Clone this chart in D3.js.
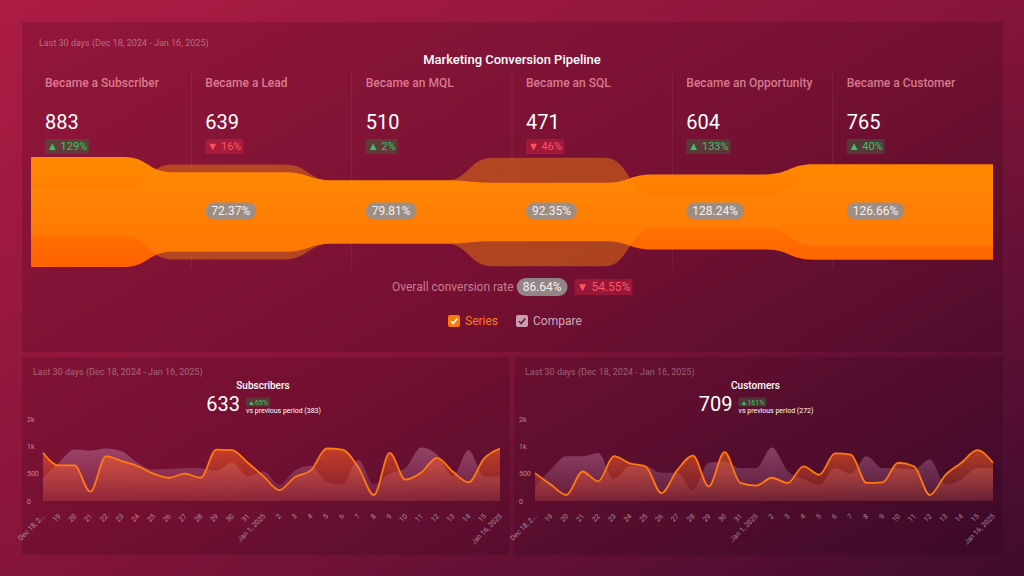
<!DOCTYPE html>
<html>
<head>
<meta charset="utf-8">
<script src="https://cdn.jsdelivr.net/npm/d3@7"></script>
<style>
    body { margin: 0; background: #7a1434; font-family: Roboto, "Noto Sans", sans-serif; }
    svg { display: block; }
</style>
</head>
<body>
<div id="dashboard"></div>
<script>
// Funnel data
const stageNames = ["Became a Subscriber", "Became a Lead", "Became an MQL", "Became an SQL", "Became an Opportunity", "Became a Customer"];
const stageValues = [883, 639, 510, 471, 604, 765];
const compareValues = [383, 761, 500, 872, 259, 546];
const stageChanges = [129, -16, 2, -46, 133, 40];
const overallChange = -54.55;

// Daily data (Dec 18, 2024 - Jan 16, 2025)
const dayLabels = ["Dec 18, 2...", "19", "20", "21", "22", "23", "24", "25", "26", "27", "28", "29", "30", "31",
    "Jan 1, 2025", "2", "3", "4", "5", "6", "7", "8", "9", "10", "11", "12", "13", "14", "15", "Jan 16, 2025"];
const subscribers = [883, 650, 650, 170, 820, 730, 640, 500, 425, 500, 425, 940, 930, 700, 450, 200, 440, 560, 960, 940, 620, 110, 880, 390, 520, 790, 540, 340, 780, 960];
const subscribersPrev = [425, 700, 940, 920, 960, 910, 700, 575, 590, 600, 600, 550, 700, 450, 540, 300, 560, 640, 350, 300, 750, 300, 500, 600, 980, 850, 450, 930, 450, 450];
const customers = [510, 300, 110, 540, 360, 820, 690, 635, 145, 560, 830, 265, 895, 330, 280, 425, 330, 635, 480, 870, 850, 330, 340, 700, 635, 110, 480, 700, 930, 700];
const customersPrev = [250, 575, 820, 820, 880, 400, 635, 635, 515, 515, 200, 700, 720, 600, 600, 980, 550, 400, 300, 600, 500, 820, 600, 600, 580, 760, 300, 400, 600, 600];
const yTickValues = [0, 500, 1000, 1500];
const yTickLabels = ["0", "500", "1k", "2k"];

const GREEN = "#37c46b", GREEN_BG = "rgba(70,90,60,0.55)",
    RED = "#ff5468", RED_BG = "rgba(230,40,70,0.35)",
    ORANGE = "#ff7a10";
const DATE_TEXT = "Last 30 days (Dec 18, 2024 - Jan 16, 2025)";

document.addEventListener("DOMContentLoaded", () => {
    const W = 1024, H = 576;
    const svg = d3.select("#dashboard").append("svg").attr("width", W).attr("height", H);
    const defs = svg.append("defs");

    const bg = defs.append("linearGradient").attr("id", "bg").attr("x1", 0).attr("y1", 0).attr("x2", 1).attr("y2", 1);
    bg.append("stop").attr("offset", "0%").attr("stop-color", "#ad1c44");
    bg.append("stop").attr("offset", "50%").attr("stop-color", "#86143a");
    bg.append("stop").attr("offset", "100%").attr("stop-color", "#3e0c2e");
    svg.append("rect").attr("width", W).attr("height", H).attr("fill", "url(#bg)");

    // panneaux
    const panels = [[22, 22, 981, 330], [22, 357, 488, 198], [514, 357, 489, 198]];
    svg.selectAll(".panel").data(panels).enter().append("rect")
        .attr("class", "panel")
        .attr("x", d => d[0]).attr("y", d => d[1]).attr("width", d => d[2]).attr("height", d => d[3])
        .attr("fill", "rgba(25,0,15,0.16)");

    function badge(g, x, y, change, fontSize, padX, h, space) {
        const up = change >= 0;
        const grp = g.append("g").attr("transform", `translate(${x},${y})`);
        const rect = grp.append("rect");
        const t = grp.append("text")
            .attr("x", padX).attr("y", h / 2).attr("dy", "0.36em")
            .style("font-size", fontSize + "px")
            .attr("fill", up ? GREEN : RED)
            .text(`${up ? "▲" : "▼"}${space ? " " : ""}${Math.abs(change)}%`);
        const w = t.node().getComputedTextLength() + 2 * padX;
        rect.attr("width", w).attr("height", h).attr("rx", 1).attr("fill", up ? GREEN_BG : RED_BG);
        return w;
    }

    function pill(g, cx, cy, label, fontSize, h) {
        const grp = g.append("g");
        const rect = grp.append("rect");
        const t = grp.append("text").attr("x", cx).attr("y", cy).attr("dy", "0.36em")
            .attr("text-anchor", "middle").style("font-size", fontSize + "px").attr("fill", "#f3f0f0").text(label);
        const w = t.node().getComputedTextLength() + 12;
        rect.attr("x", cx - w / 2).attr("y", cy - h / 2).attr("width", w).attr("height", h)
            .attr("rx", h / 2).attr("fill", "rgba(150,142,142,0.92)");
        return w;
    }

    /* ======================
       FUNNEL
       ====================== */
    function chartFunnel() {
        const g = svg.append("g");
        g.append("text").attr("x", 39).attr("y", 46).style("font-size", "9px")
            .attr("fill", "rgba(255,255,255,0.38)").text(DATE_TEXT);
        g.append("text").attr("x", 512).attr("y", 64).attr("text-anchor", "middle")
            .style("font-size", "13px").style("font-weight", 500).attr("fill", "#fff")
            .text("Marketing Conversion Pipeline");

        const left = 31, right = 993, mid = 212;
        const colW = (right - left) / stageNames.length;
        const hScale = d3.scaleLinear()
            .domain([0, d3.max(stageValues.concat(compareValues))])
            .range([0, 110]);

        // séparateurs
        g.selectAll(".sep").data(d3.range(1, stageNames.length)).enter().append("line")
            .attr("x1", i => left + i * colW).attr("x2", i => left + i * colW)
            .attr("y1", 70).attr("y2", 268)
            .attr("stroke", "rgba(255,255,255,0.07)");

        function bandPoints(values) {
            const pts = [];
            values.forEach((v, i) => {
                const x0 = left + i * colW;
                const start = i === 0 ? left : x0 - 0.12 * colW;
                const end = i === values.length - 1 ? right : x0 + 0.58 * colW;
                pts.push({ x: start, v: v }, { x: end, v: v });
            });
            return pts;
        }
        const band = d3.area()
            .x(d => d.x)
            .y0(d => mid + hScale(d.v) / 2)
            .y1(d => mid - hScale(d.v) / 2)
            .curve(d3.curveBumpX);

        const grad = defs.append("linearGradient").attr("id", "funnel-grad")
            .attr("gradientUnits", "userSpaceOnUse").attr("x1", 0).attr("x2", 0).attr("y1", 157).attr("y2", 267);
        grad.append("stop").attr("offset", "0%").attr("stop-color", "#ff8a00");
        grad.append("stop").attr("offset", "100%").attr("stop-color", "#ff6200");

        g.append("path").attr("d", band(bandPoints(stageValues))).attr("fill", "url(#funnel-grad)");
        g.append("path").attr("d", band(bandPoints(compareValues))).attr("fill", "rgba(255,140,10,0.42)");

        // en-têtes des colonnes
        stageNames.forEach((name, i) => {
            const x = left + i * colW + 14;
            g.append("text").attr("x", x).attr("y", 87).style("font-size", "12px").style("font-weight", 500)
                .attr("fill", "rgba(255,170,185,0.7)").text(name);
            g.append("text").attr("x", x).attr("y", 129).style("font-size", "20px")
                .attr("fill", "#fff").text(stageValues[i]);
            badge(g, x, 139, stageChanges[i], 11, 2, 15, true);
            if (i > 0) {
                const rate = (stageValues[i] / stageValues[i - 1] * 100).toFixed(2) + "%";
                const t = g.append("text").style("font-size", "12px").text(rate);
                const w = t.node().getComputedTextLength() + 12;
                t.remove();
                pill(g, x + w / 2, 211, rate, 12, 17);
            }
        });

        // taux global
        const overall = (stageValues[stageValues.length - 1] / stageValues[0] * 100).toFixed(2) + "%";
        const lbl = g.append("text").attr("x", 392).attr("y", 287).attr("dy", "0.36em").style("font-size", "12px")
            .attr("fill", "rgba(255,200,210,0.6)").text("Overall conversion rate");
        let x = 392 + lbl.node().getComputedTextLength() + 3;
        const tmp = g.append("text").style("font-size", "12px").text(overall);
        const pw = tmp.node().getComputedTextLength() + 12;
        tmp.remove();
        pill(g, x + pw / 2, 287, overall, 12, 18);
        x += pw + 7;
        badge(g, x, 279, overallChange, 12, 2, 16, true);

        // légende
        const legend = [
            { label: "Series", box: "#ff7a00", check: "#fff", text: "#ff7a1a", x: 448 },
            { label: "Compare", box: "#c99db2", check: "#6a1d3a", text: "#cfa9bb", x: 516 }
        ];
        legend.forEach(l => {
            const lg = g.append("g").attr("transform", `translate(${l.x},315)`);
            lg.append("rect").attr("width", 12).attr("height", 12).attr("rx", 2).attr("fill", l.box);
            lg.append("path").attr("d", "M3,6.2 L5.2,8.6 L9.2,3.4").attr("fill", "none")
                .attr("stroke", l.check).attr("stroke-width", 1.6);
            lg.append("text").attr("x", 17).attr("y", 6).attr("dy", "0.36em").style("font-size", "12px")
                .attr("fill", l.text).text(l.label);
        });
    }

    /* ======================
       MINI GRAPHIQUES
       ====================== */
    function chartMini(px, pw, title, total, change, prevTotal, values, prevValues, id) {
        const g = svg.append("g");
        const cx = px + pw / 2 - 3;
        g.append("text").attr("x", px + 11).attr("y", 375).style("font-size", "9px")
            .attr("fill", "rgba(255,255,255,0.35)").text(DATE_TEXT);
        g.append("text").attr("x", cx).attr("y", 389).attr("text-anchor", "middle")
            .style("font-size", "10px").style("font-weight", 500).attr("fill", "#fff").text(title);
        g.append("text").attr("x", cx - 23).attr("y", 411).attr("text-anchor", "end")
            .style("font-size", "20px").attr("fill", "#fff").text(total);
        badge(g, cx - 17, 397.5, change, 7, 2, 9, false);
        g.append("text").attr("x", cx - 17).attr("y", 413).style("font-size", "7px")
            .attr("fill", "#fff").text(`vs previous period (${prevTotal})`);

        const x = d3.scaleLinear().domain([0, values.length - 1]).range([px + 21, px + pw - 10]);
        const y = d3.scaleLinear().domain([0, 1500]).range([501, 419]);

        const gradS = defs.append("linearGradient").attr("id", id + "-s")
            .attr("gradientUnits", "userSpaceOnUse").attr("x1", 0).attr("x2", 0).attr("y1", 447).attr("y2", 501);
        gradS.append("stop").attr("offset", "0%").attr("stop-color", "rgba(255,95,35,0.6)");
        gradS.append("stop").attr("offset", "100%").attr("stop-color", "rgba(255,95,35,0.14)");
        const gradC = defs.append("linearGradient").attr("id", id + "-c")
            .attr("gradientUnits", "userSpaceOnUse").attr("x1", 0).attr("x2", 0).attr("y1", 447).attr("y2", 501);
        gradC.append("stop").attr("offset", "0%").attr("stop-color", "rgba(215,150,190,0.38)");
        gradC.append("stop").attr("offset", "100%").attr("stop-color", "rgba(215,150,190,0.08)");

        const area = d3.area().x((d, i) => x(i)).y0(y(0)).y1(d => y(d)).curve(d3.curveMonotoneX);
        const line = d3.line().x((d, i) => x(i)).y(d => y(d)).curve(d3.curveMonotoneX);

        g.append("path").attr("d", area(prevValues)).attr("fill", `url(#${id}-c)`);
        g.append("path").attr("d", area(values)).attr("fill", `url(#${id}-s)`);
        g.append("path").attr("d", line(values)).attr("fill", "none")
            .attr("stroke", ORANGE).attr("stroke-width", 1.8);

        // axe Y
        const yAxis = g.append("g").attr("transform", `translate(${px + 5},0)`)
            .call(d3.axisLeft(y).tickValues(yTickValues).tickFormat((d, i) => yTickLabels[i]).tickSize(0));
        yAxis.select(".domain").remove();
        yAxis.selectAll("text").attr("x", 0).style("text-anchor", "start")
            .style("font-size", "7px").style("font-family", "Roboto, sans-serif").attr("fill", "rgba(255,255,255,0.5)");

        // axe X
        const xAxis = g.append("g").attr("transform", "translate(0,515)")
            .call(d3.axisBottom(x).tickValues(d3.range(values.length)).tickFormat(i => dayLabels[i]).tickSize(0));
        xAxis.select(".domain").remove();
        xAxis.selectAll("text").attr("x", 0).attr("y", 0).attr("dy", "0.35em")
            .attr("transform", "rotate(-45)").style("text-anchor", "end")
            .style("font-size", "7px").style("font-family", "Roboto, sans-serif").attr("fill", "rgba(255,255,255,0.5)");
    }

    chartFunnel();
    chartMini(22, 488, "Subscribers", 633, 65, 383, subscribers, subscribersPrev, "sub");
    chartMini(514, 489, "Customers", 709, 161, 272, customers, customersPrev, "cus");
});
</script>
</body>
</html>
